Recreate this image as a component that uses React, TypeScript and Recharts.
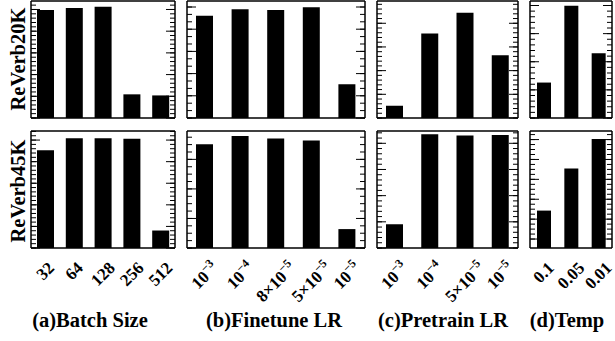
import React from 'react';
import { BarChart, Bar, XAxis, YAxis } from 'recharts';

// ---- categories / tick labels ----
const batchSizes = ['32', '64', '128', '256', '512'];
const finetuneLRs = ['10^-3', '10^-4', '8×10^-5', '5×10^-5', '10^-5'];
const pretrainLRs = ['10^-3', '10^-4', '5×10^-5', '10^-5'];
const temps = ['0.1', '0.05', '0.01'];

// ---- series values (in units of the major y tick spacing of each panel) ----
const batch20K = [4.98, 5.07, 5.13, 1.09, 1.04];
const batch45K = [4.53, 5.09, 5.09, 5.06, 0.81];
const finetune20K = [4.61, 4.9, 4.86, 4.99, 1.52];
const finetune45K = [3.51, 3.79, 3.71, 3.64, 0.64];
const pretrain20K = [0.52, 3.57, 4.44, 2.65];
const pretrain45K = [0.91, 4.35, 4.3, 4.32];
const temp20K = [1.26, 3.99, 2.3];
const temp45K = [1.88, 4.0, 5.48];

const rowLabels = ['ReVerb20K', 'ReVerb45K'];
const panelTitles = ['(a)Batch Size', '(b)Finetune LR', '(c)Pretrain LR', '(d)Temp'];

const FONT = '"Liberation Serif", "Times New Roman", Times, serif';

const CHAR_W: Record<string, number> = { '.': 0.25, '×': 0.57, '−': 0.57 };
function textW(s: string, size: number) {
  let w = 0;
  for (const ch of s) w += (CHAR_W[ch] ?? 0.5) * size;
  return w;
}

const TICK_FS = 17;
const SUP_FS = 12;

const XTick = (props: any) => {
  const { x, y, payload } = props;
  const label = String(payload.value);
  const [base, expRaw] = label.split('^');
  const exp = expRaw ? expRaw.replace('-', '−') : '';
  const w = textW(base, TICK_FS) + (exp ? textW(exp, SUP_FS) : 0);
  const h = 11.5;
  const half = (w + h) * 0.3536;
  const cy = y + 13 + half;
  return (
    <g transform={`translate(${x},${cy}) rotate(-45)`}>
      <text x={0} y={5.5} textAnchor="middle" fontFamily={FONT} fontWeight="bold" fontSize={TICK_FS} fill="#000">
        {base}
        {exp ? (
          <tspan dy={-7} fontSize={SUP_FS}>
            {exp}
          </tspan>
        ) : null}
      </text>
    </g>
  );
};

const EmptyTick = () => <g />;

function makeTicks(max: number, perMajor: number, offset: number) {
  const out: number[] = [];
  const step = 1 / perMajor;
  for (let k = 0; offset + k * step <= max + 1e-6; k++) out.push(+(offset + k * step).toFixed(4));
  return out;
}

type PanelProps = {
  left: number;
  top: number;
  width: number;
  height: number;
  cats: string[];
  values: number[];
  max: number;
  minorPer: number;
  offset: number;
  showLabels: boolean;
  barSize: number;
};

function Panel({ left, top, width, height, cats, values, max, minorPer, offset, showLabels, barSize }: PanelProps) {
  const data = cats.map((c, i) => ({ cat: c, v: values[i] }));
  const pad = 2;
  const labelH = showLabels ? 70 : 0.01;
  const minor = makeTicks(max, minorPer, offset);
  const major = makeTicks(max, 1, offset);
  const frame = { stroke: '#000', strokeWidth: 1.5 };
  const tl = { stroke: '#000', strokeWidth: 1 };
  const common = {
    type: 'number' as const,
    domain: [0, max],
    allowDataOverflow: true,
    mirror: true,
    width: 0.01,
    interval: 0 as const,
    tick: <EmptyTick />,
    tickLine: tl,
  };
  return (
    <div style={{ position: 'absolute', left: left - pad, top: top - pad }}>
      <BarChart
        width={width + 2 * pad}
        height={height + pad + (showLabels ? labelH : pad)}
        data={data}
        margin={{ top: pad, right: pad, left: pad, bottom: showLabels ? 0 : pad }}
      >
        <XAxis
          dataKey="cat"
          xAxisId="b"
          axisLine={frame}
          tickLine={false}
          tickSize={0}
          tickMargin={0}
          height={labelH}
          interval={0}
          tick={showLabels ? <XTick /> : false}
        />
        <XAxis dataKey="cat" xAxisId="t" orientation="top" axisLine={frame} tickLine={false} tick={false} height={0.01} />
        <YAxis yAxisId="L1" orientation="left" {...common} ticks={minor} tickSize={5} axisLine={frame} />
        <YAxis yAxisId="L2" orientation="left" {...common} ticks={major} tickSize={9} axisLine={false} />
        <YAxis yAxisId="R1" orientation="right" {...common} ticks={minor} tickSize={5} axisLine={frame} />
        <YAxis yAxisId="R2" orientation="right" {...common} ticks={major} tickSize={9} axisLine={false} />
        <Bar dataKey="v" xAxisId="b" yAxisId="L1" fill="#000" barSize={barSize} isAnimationActive={false} />
      </BarChart>
    </div>
  );
}

export default function App() {
  const topY = 1;
  const botY = 131;
  const H = 117;
  const cols = [
    { left: 31, width: 144, cats: batchSizes, v: [batch20K, batch45K], cfg: [{ max: 5.39, m: 5, o: 0 }, { max: 5.42, m: 5, o: 0 }], bs: 17 },
    { left: 187, width: 178, cats: finetuneLRs, v: [finetune20K, finetune45K], cfg: [{ max: 5.27, m: 3, o: 0 }, { max: 3.96, m: 4, o: 0 }], bs: 17 },
    { left: 377, width: 141, cats: pretrainLRs, v: [pretrain20K, pretrain45K], cfg: [{ max: 4.94, m: 5, o: 0 }, { max: 4.47, m: 5, o: 0 }], bs: 17 },
    { left: 530, width: 82, cats: temps, v: [temp20K, temp45K], cfg: [{ max: 4.16, m: 5, o: 0 }, { max: 5.88, m: 4, o: 0.45 }], bs: 14 },
  ];
  const titleCenters = [90, 274, 443, 567];
  return (
    <div style={{ position: 'relative', width: 615, height: 341, overflow: 'hidden', background: '#fff' }}>
      <style>{`body{margin:0} .recharts-surface{overflow:visible}`}</style>
      {cols.map((c, ci) =>
        [0, 1].map((r) => (
          <Panel
            key={`${ci}-${r}`}
            left={c.left}
            top={r === 0 ? topY : botY}
            width={c.width}
            height={H}
            cats={c.cats}
            values={c.v[r]}
            max={c.cfg[r].max}
            minorPer={c.cfg[r].m}
            offset={c.cfg[r].o}
            showLabels={r === 1}
            barSize={c.bs}
          />
        ))
      )}
      <svg width={615} height={341} style={{ position: 'absolute', left: 0, top: 0, pointerEvents: 'none' }}>
        {rowLabels.map((t, i) => (
          <text
            key={t}
            transform={`translate(25,${i === 0 ? 59 : 191}) rotate(-90)`}
            textAnchor="middle"
            fontFamily={FONT}
            fontWeight="bold"
            fontSize={20.5}
            fill="#000"
          >
            {t}
          </text>
        ))}
        {panelTitles.map((t, i) => (
          <text key={t} x={titleCenters[i]} y={326.5} textAnchor="middle" fontFamily={FONT} fontWeight="bold" fontSize={20.5} fill="#000">
            {t}
          </text>
        ))}
      </svg>
    </div>
  );
}
